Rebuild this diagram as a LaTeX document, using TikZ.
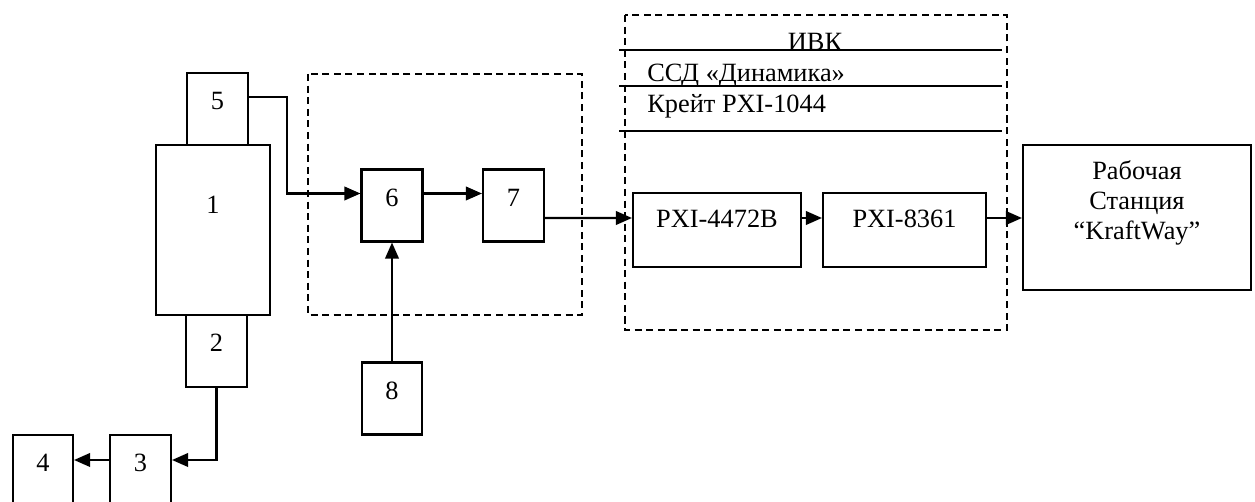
\documentclass[tikz,border=0pt]{standalone}
\usepackage{fontspec}
\setmainfont{Liberation Serif}
\usetikzlibrary{arrows.meta}

\begin{document}
\begin{tikzpicture}[
  x=0.02cm, y=-0.02cm,
  font=\fontsize{15}{17}\selectfont,
  blk/.style={
    rectangle,
    draw,
    line width=1.2pt,
    inner sep=0pt,
    minimum width=1.22cm,
    minimum height=1.44cm,
    text depth=0.32cm
  },
  pxi/.style={
    blk,
    minimum height=1.48cm,
    text depth=0.44cm
  },
  frame/.style={draw, line width=1.2pt, dash pattern=on 4pt off 2.6pt},
  wire/.style={line width=1.2pt},
  arr/.style={-{Triangle[length=0.32cm, width=0.27cm]}, line width=1.2pt}
]
  \useasboundingbox (0,0) rectangle (1255,502);

  % object with sensors
  \node[blk, minimum width=2.28cm, minimum height=3.4cm, text depth=1.0cm] (b1) at (213,230) {1};
  \node[blk] (b5) at (217.5,109) {5};
  \node[blk] (b2) at (216.5,351) {2};
  \node[blk] (b3) at (140.5,471) {3};
  \node[blk, minimum width=1.2cm] (b4) at (43,471) {4};

  % conditioning
  \draw[frame] (308,74) rectangle (582,315);
  \node[blk] (b6) at (392,205.5) {6};
  \node[blk] (b7) at (513.5,205.5) {7};
  \node[blk, minimum width=1.2cm] (b8) at (392,398.5) {8};

  % ИВК
  \draw[frame] (625,15) rectangle (1007,330);
  \draw[wire] (619,50) -- (1002,50);
  \draw[wire] (619,86) -- (1002,86);
  \draw[wire] (619,131) -- (1002,131);
  \node[anchor=base, inner sep=0pt] (ivk) at (815,50.5) {ИВК};
  \node[anchor=base west, inner sep=0pt] (ssd) at (647,82) {ССД «Динамика»};
  \node[anchor=base west, inner sep=0pt] (crate) at (647,113) {Крейт PXI-1044};
  \node[pxi, minimum width=3.36cm] (bA) at (717,230) {PXI-4472B};
  \node[pxi, minimum width=3.26cm] (bB) at (904.5,230) {PXI-8361};

  % workstation
  \node[blk, minimum width=4.56cm, minimum height=2.9cm, text depth=0pt] (ws) at (1137,217.5) {};
  \node[align=center, inner sep=0pt] (wsText) at ([yshift=0.29cm]ws.center) {Рабочая\\Станция\\“KraftWay”};

  \draw[arr] (b2.south) |- ([yshift=0.22cm]b3.east);
  \draw[arr] ([yshift=0.22cm]b3.west) -- ([yshift=0.22cm]b4.east);
  \draw[arr] ([yshift=0.24cm]b5.east) -- ++(38,0) |- ([yshift=0.24cm]b6.west);
  \draw[arr] ([yshift=0.24cm]b6.east) -- ([yshift=0.24cm]b7.west);
  \draw[arr] (b8.north) -- (b6.south);
  \draw[arr] ([yshift=-0.25cm]b7.east) -- ([yshift=0.24cm]bA.west);
  \draw[arr] ([yshift=0.24cm]bA.east) -- ([yshift=0.24cm]bB.west);
  \draw[arr] ([yshift=0.24cm]bB.east) -- ([yshift=0.24cm]bB.east -| ws.west);
\end{tikzpicture}
\end{document}
